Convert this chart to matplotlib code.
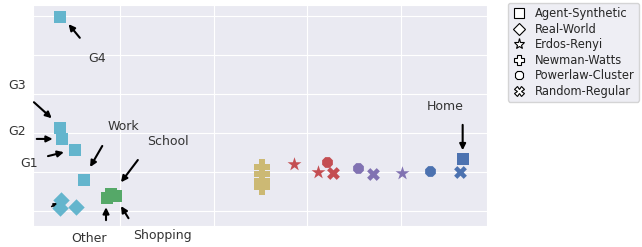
import matplotlib
matplotlib.use("Agg")
import matplotlib.pyplot as plt
import seaborn as sns

# data (embedding coordinates)
groups = ["Agent-Synthetic", "Real-World", "Erdos-Renyi", "Newman-Watts",
          "Powerlaw-Cluster", "Random-Regular"]
markers = {"Agent-Synthetic": "s", "Real-World": "D", "Erdos-Renyi": "*",
           "Newman-Watts": "P", "Powerlaw-Cluster": "8", "Random-Regular": "X"}

pal = ["#4C72B0", "#55A868", "#C44E52", "#8172B2", "#CCB974", "#64B5CD"]

pt_group = ["Agent-Synthetic"] * 5 + ["Real-World"] * 3 + ["Agent-Synthetic"] * 3 \
    + ["Newman-Watts"] * 4 \
    + ["Erdos-Renyi", "Powerlaw-Cluster", "Erdos-Renyi", "Random-Regular"] \
    + ["Powerlaw-Cluster", "Random-Regular", "Erdos-Renyi"] \
    + ["Powerlaw-Cluster", "Random-Regular", "Agent-Synthetic"]
pt_color = [5] * 8 + [1] * 3 + [4] * 4 + [2] * 4 + [3] * 3 + [0] * 3
pt_x = [-0.64, -0.64, -0.62, -0.48, -0.38,
        -0.63, -0.64, -0.47,
        -0.14, -0.10, -0.04,
        1.52, 1.52, 1.52, 1.52,
        1.86, 2.21, 2.11, 2.27,
        2.54, 2.70, 3.01,
        3.31, 3.63, 3.66]
pt_y = [4.97, 2.13, 1.85, 1.56, 0.79,
        0.28, 0.08, 0.10,
        0.33, 0.44, 0.38,
        1.13, 0.95, 0.77, 0.62,
        1.21, 1.26, 1.00, 0.97,
        1.10, 0.95, 0.97,
        1.03, 1.00, 1.33]

labels = ["G4", "G3", "G2", "G1", "Work", "School", "Shopping", "Other", "Home"]
label_xy = [(-0.25, 3.90), (-1.10, 3.23), (-1.10, 2.03), (-0.97, 1.23),
            (0.04, 2.18), (0.51, 1.79), (0.45, -0.62), (-0.33, -0.69), (3.47, 2.69)]
arrow_head = [(-0.55, 4.79), (-0.73, 2.38), (-0.72, 1.85), (-0.60, 1.51),
              (-0.32, 1.13), (0.01, 0.74), (0.01, 0.13), (-0.15, 0.10), (3.66, 1.56)]
arrow_tail = [(-0.43, 4.44), (-0.92, 2.79), (-0.89, 1.85), (-0.77, 1.41),
              (-0.19, 1.67), (0.19, 1.31), (0.09, -0.18), (-0.15, -0.23), (3.66, 2.21)]

sns.set_style("darkgrid")
fig = plt.figure(figsize=(6.42, 2.47), dpi=100)
ax = fig.add_axes([33 / 642, 21 / 247, 454 / 642, 221 / 247])

sizes = {"*": 110, "P": 120, "X": 85}
for g, c, x, y in zip(pt_group, pt_color, pt_x, pt_y):
    m = markers[g]
    ax.scatter(x, y, marker=m, color=pal[c], s=sizes.get(m, 70), linewidths=0, zorder=3)

for (hx, hy), (tx, ty) in zip(arrow_head, arrow_tail):
    ax.annotate("", xy=(hx, hy), xytext=(tx, ty), annotation_clip=False,
                arrowprops=dict(arrowstyle="-|>", color="black", lw=1.5,
                                mutation_scale=9, shrinkA=0, shrinkB=0))
# small arrow hidden behind the real-world diamonds
ax.annotate("", xy=(-0.66, 0.21), xytext=(-0.73, 0.12),
            arrowprops=dict(arrowstyle="-|>", color="black", lw=1.2,
                            mutation_scale=6, shrinkA=0, shrinkB=0), zorder=2)

for t, (x, y) in zip(labels, label_xy):
    ax.text(x, y, t, ha="center", va="center", fontsize=9, color="#333333",
            clip_on=False)

ax.set_xlim(-0.93, 3.92)
ax.set_ylim(-0.38, 5.28)
ax.set_xticks([0, 1, 2, 3])
ax.set_yticks([0, 1, 2, 3, 4, 5])
ax.set_xticklabels([])
ax.set_yticklabels([])
ax.tick_params(length=0)

handles = [plt.Line2D([], [], marker=markers[g], linestyle="", markerfacecolor="white",
                      markeredgecolor="black", markersize=8 if markers[g] == "*" else 6.5,
                      markeredgewidth=0.8, label=g) for g in groups]
fig.legend(handles=handles, loc="upper left", bbox_to_anchor=(508 / 642, 1 - 3 / 247),
           fontsize=8.3, frameon=True, handletextpad=0.8, labelspacing=0.22,
           borderpad=0.35, handlelength=1.2, borderaxespad=0)

fig.savefig("out.png", dpi=100)
